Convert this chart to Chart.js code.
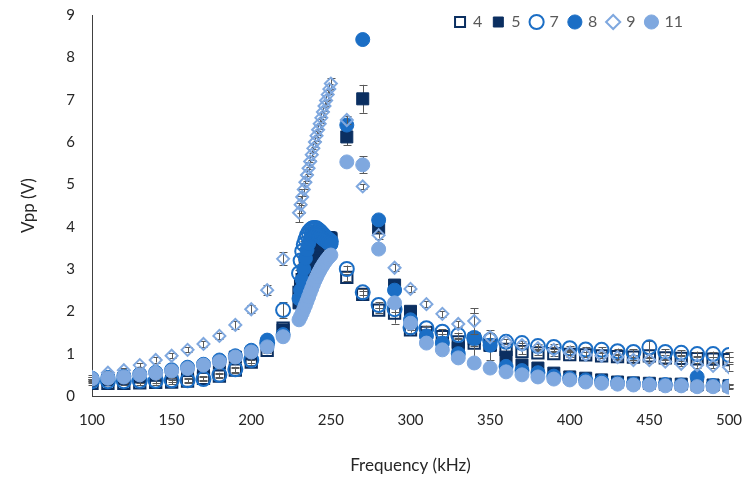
<!DOCTYPE html>
<html>
<head>
<meta charset="utf-8">
<script src="https://cdn.jsdelivr.net/npm/chart.js@4.4.1/dist/chart.umd.min.js"></script>
<style>
  html, body { margin: 0; padding: 0; background: #fff; }
  #wrap { width: 745px; height: 477px; position: relative; }
</style>
</head>
<body>
<div id="wrap"><canvas id="vppChart"></canvas></div>
<script>
// frequency points (kHz): coarse steps, a fine sweep 230-250, then coarse again
var freqs = [100, 110, 120, 130, 140, 150, 160, 170, 180, 190, 200, 210, 220,
  230, 231, 232, 233, 234, 235, 236, 237, 238, 239, 240, 241, 242, 243, 244, 245, 246, 247, 248, 249, 250,
  260, 270, 280, 290, 300, 310, 320, 330, 340, 350, 360, 370, 380, 390, 400, 410, 420, 430, 440, 450, 460, 470, 480, 490, 500];

var labels = ['4', '5', '7', '8', '9', '11'];

var vpp4 = [0.30, 0.30, 0.30, 0.31, 0.32, 0.33, 0.35, 0.42, 0.47, 0.61, 0.80, 1.08, 1.60,
  2.45, 2.60, 2.75, 2.90, 3.05, 3.20, 3.33, 3.45, 3.55, 3.63, 3.69, 3.72, 3.74, 3.75, 3.75, 3.74, 3.73, 3.72, 3.71, 3.70, 3.69,
  2.80, 2.40, 2.03, 1.96, 1.56, 1.50, 1.40, 1.28, 1.25, 1.20, 1.10, 1.05, 1.02, 1.00, 0.98, 0.97, 0.95, 0.93, 0.92, 0.95, 0.90, 0.89, 0.88, 0.87, 0.86];
var vpp5 = [0.36, 0.38, 0.41, 0.45, 0.49, 0.54, 0.60, 0.68, 0.78, 0.92, 1.00, 1.22, 1.56,
  2.20, 2.32, 2.45, 2.58, 2.71, 2.84, 2.97, 3.09, 3.20, 3.30, 3.40, 3.48, 3.55, 3.61, 3.66, 3.70, 3.72, 3.73, 3.74, 3.74, 3.73,
  6.12, 7.02, 3.97, 2.62, 2.00, 1.42, 1.20, 1.13, 1.35, 1.20, 0.92, 0.73, 0.66, 0.54, 0.45, 0.42, 0.38, 0.33, 0.31, 0.30, 0.28, 0.28, 0.26, 0.26, 0.24];
var vpp7 = [0.35, 0.35, 0.35, 0.36, 0.36, 0.37, 0.37, 0.40, 0.50, 0.63, 0.85, 1.25, 2.03,
  2.90, 3.20, 3.42, 3.58, 3.70, 3.80, 3.87, 3.92, 3.95, 3.97, 3.97, 3.96, 3.93, 3.90, 3.86, 3.82, 3.78, 3.74, 3.71, 3.68, 3.65,
  3.00, 2.45, 2.15, 2.05, 1.62, 1.60, 1.52, 1.44, 1.37, 1.32, 1.28, 1.25, 1.18, 1.16, 1.13, 1.10, 1.09, 1.06, 1.04, 1.15, 1.04, 1.02, 0.99, 0.99, 0.97];
var vpp8 = [0.42, 0.44, 0.47, 0.52, 0.56, 0.62, 0.68, 0.75, 0.85, 0.95, 1.08, 1.32, 1.45,
  2.30, 2.50, 2.75, 3.00, 3.25, 3.45, 3.60, 3.70, 3.77, 3.80, 3.82, 3.82, 3.80, 3.77, 3.74, 3.71, 3.68, 3.65, 3.62, 3.60, 3.58,
  6.40, 8.42, 4.16, 2.50, 1.80, 1.42, 1.25, 1.00, 1.37, 1.20, 0.70, 0.60, 0.55, 0.47, 0.42, 0.38, 0.35, 0.31, 0.29, 0.28, 0.27, 0.26, 0.45, 0.25, 0.23];
var vpp9 = [0.45, 0.55, 0.61, 0.73, 0.85, 0.95, 1.09, 1.23, 1.42, 1.68, 2.05, 2.50, 3.24,
  4.33, 4.52, 4.70, 4.88, 5.05, 5.22, 5.38, 5.54, 5.70, 5.85, 6.00, 6.15, 6.29, 6.43, 6.57, 6.71, 6.85, 6.98, 7.12, 7.25, 7.38,
  6.52, 4.95, 3.80, 3.03, 2.53, 2.17, 1.94, 1.70, 1.77, 1.39, 1.28, 1.20, 1.13, 1.09, 1.02, 0.97, 0.95, 0.92, 0.85, 0.85, 0.81, 0.76, 0.73, 0.71, 0.68];
var vpp11 = [0.40, 0.42, 0.45, 0.50, 0.54, 0.59, 0.65, 0.73, 0.81, 0.92, 1.04, 1.16, 1.40,
  1.80, 1.88, 1.96, 2.05, 2.14, 2.24, 2.34, 2.44, 2.54, 2.64, 2.73, 2.81, 2.89, 2.96, 3.03, 3.09, 3.15, 3.20, 3.25, 3.29, 3.33,
  5.53, 5.46, 3.47, 2.20, 1.72, 1.25, 1.09, 0.90, 0.78, 0.66, 0.57, 0.50, 0.45, 0.40, 0.38, 0.33, 0.30, 0.28, 0.26, 0.26, 0.24, 0.24, 0.22, 0.22, 0.21];

// error bar half-heights (V)
var err4 = [0.05, 0.05, 0.05, 0.05, 0.05, 0.05, 0.05, 0.05, 0.05, 0.06, 0.06, 0.06, 0.08,
  0.08, 0.08, 0.08, 0.08, 0.08, 0.08, 0.08, 0.08, 0.08, 0.08, 0.08, 0.08, 0.08, 0.08, 0.08, 0.08, 0.08, 0.08, 0.08, 0.08, 0.08,
  0.08, 0.08, 0.06, 0.25, 0.06, 0.06, 0.06, 0.06, 0.06, 0.06, 0.06, 0.06, 0.06, 0.06, 0.06, 0.06, 0.06, 0.06, 0.06, 0.06, 0.06, 0.06, 0.06, 0.06, 0.06];
var err5 = [0.04, 0.04, 0.04, 0.04, 0.04, 0.04, 0.05, 0.05, 0.05, 0.05, 0.06, 0.08, 0.10,
  0.10, 0.10, 0.10, 0.10, 0.10, 0.10, 0.10, 0.10, 0.10, 0.10, 0.10, 0.10, 0.10, 0.10, 0.10, 0.10, 0.10, 0.10, 0.10, 0.10, 0.10,
  0.20, 0.33, 0.10, 0.08, 0.08, 0.08, 0.08, 0.08, 0.62, 0.35, 0.06, 0.06, 0.05, 0.05, 0.05, 0.05, 0.05, 0.05, 0.05, 0.05, 0.05, 0.05, 0.05, 0.05, 0.05];
var err7 = [0.05, 0.05, 0.05, 0.05, 0.05, 0.05, 0.05, 0.05, 0.05, 0.06, 0.07, 0.08, 0.18,
  0.08, 0.08, 0.08, 0.08, 0.08, 0.08, 0.08, 0.08, 0.08, 0.08, 0.08, 0.08, 0.08, 0.08, 0.08, 0.08, 0.08, 0.08, 0.08, 0.08, 0.08,
  0.08, 0.07, 0.07, 0.07, 0.06, 0.06, 0.06, 0.06, 0.06, 0.06, 0.06, 0.06, 0.06, 0.06, 0.06, 0.06, 0.06, 0.06, 0.06, 0.15, 0.06, 0.06, 0.06, 0.06, 0.06];
var err8 = [0.04, 0.04, 0.04, 0.04, 0.04, 0.04, 0.04, 0.04, 0.05, 0.05, 0.05, 0.06, 0.06,
  0.06, 0.06, 0.06, 0.06, 0.06, 0.06, 0.06, 0.06, 0.06, 0.06, 0.06, 0.06, 0.06, 0.06, 0.06, 0.06, 0.06, 0.06, 0.06, 0.06, 0.06,
  0.12, 0.08, 0.08, 0.06, 0.06, 0.06, 0.06, 0.06, 0.60, 0.06, 0.05, 0.05, 0.05, 0.05, 0.05, 0.05, 0.05, 0.05, 0.05, 0.05, 0.05, 0.05, 0.05, 0.05, 0.05];
var err9 = [0.04, 0.04, 0.05, 0.05, 0.06, 0.06, 0.06, 0.07, 0.08, 0.09, 0.10, 0.12, 0.15,
  0.22, 0.20, 0.18, 0.15, 0.15, 0.14, 0.14, 0.13, 0.13, 0.12, 0.12, 0.12, 0.12, 0.12, 0.12, 0.12, 0.12, 0.12, 0.12, 0.12, 0.12,
  0.10, 0.06, 0.08, 0.08, 0.07, 0.07, 0.07, 0.07, 0.30, 0.10, 0.06, 0.06, 0.06, 0.06, 0.06, 0.06, 0.06, 0.06, 0.06, 0.06, 0.06, 0.06, 0.06, 0.06, 0.08];
var err11 = [0.04, 0.04, 0.04, 0.04, 0.04, 0.04, 0.04, 0.04, 0.04, 0.05, 0.05, 0.05, 0.06,
  0.05, 0.05, 0.05, 0.05, 0.05, 0.05, 0.05, 0.05, 0.05, 0.05, 0.05, 0.05, 0.05, 0.05, 0.05, 0.05, 0.05, 0.05, 0.05, 0.05, 0.05,
  0.06, 0.20, 0.06, 0.06, 0.05, 0.05, 0.05, 0.05, 0.05, 0.05, 0.04, 0.04, 0.04, 0.04, 0.04, 0.04, 0.04, 0.04, 0.04, 0.04, 0.04, 0.04, 0.04, 0.04, 0.04];

function pts(vals) {
  return freqs.map(function (f, i) { return { x: f, y: vals[i] }; });
}

var navy = '#0b2f61';
var mid = '#1b6ec5';
var light = '#7fa8df';

function series(i, vals, errs, style, color, open, radius, order) {
  return {
    label: labels[i],
    data: pts(vals),
    errors: errs,
    pointStyle: style,
    pointRadius: radius,
    pointHoverRadius: radius,
    pointBorderWidth: open ? 2 : 1,
    borderColor: color,
    backgroundColor: open ? 'rgba(255,255,255,0)' : color,
    showLine: false,
    order: order
  };
}

// vertical error bars, drawn just before each series' own markers
var errorBars = {
  id: 'errorBars',
  beforeDatasetDraw: function (chart, args) {
    var ds = chart.data.datasets[args.index];
    if (!ds.errors) return;
    var y = chart.scales.y;
    var ctx = chart.ctx;
    ctx.save();
    ctx.strokeStyle = '#595959';
    ctx.lineWidth = 1;
    args.meta.data.forEach(function (pt, i) {
      var v = ds.data[i].y, e = ds.errors[i];
      var top = y.getPixelForValue(v + e), bot = y.getPixelForValue(v - e);
      var x = Math.round(pt.x) + 0.5;
      ctx.beginPath();
      ctx.moveTo(x, top); ctx.lineTo(x, bot);
      ctx.moveTo(x - 4, Math.round(top) + 0.5); ctx.lineTo(x + 4, Math.round(top) + 0.5);
      ctx.moveTo(x - 4, Math.round(bot) + 0.5); ctx.lineTo(x + 4, Math.round(bot) + 0.5);
      ctx.stroke();
    });
    ctx.restore();
  }
};

// legend takes no layout room and sits inside the plot, top right
var legendSpot = {
  id: 'legendSpot',
  beforeLayout: function (chart) {
    var lg = chart.legend;
    if (lg && !lg._flat) {
      var fit = lg.fit;
      lg.fit = function () { fit.call(this); this.height = 0; };
      lg._flat = true;
    }
  },
  afterLayout: function (chart) {
    var lg = chart.legend;
    var pad = lg.options.labels.padding;
    var w = lg.right - lg.left;
    lg.right = 683 + pad;
    lg.left = lg.right - w;
    lg.top = 14 - pad;
    lg.bottom = lg.top + 50;
    lg.height = 50;
  }
};

new Chart(document.getElementById('vppChart'), {
  type: 'scatter',
  data: {
    datasets: [
      series(0, vpp4, err4, 'rect', navy, true, 8, 6),
      series(1, vpp5, err5, 'rect', navy, false, 8.5, 5),
      series(2, vpp7, err7, 'circle', mid, true, 7, 4),
      series(3, vpp8, err8, 'circle', mid, false, 7, 3),
      series(4, vpp9, err9, 'rectRot', light, true, 6, 2),
      series(5, vpp11, err11, 'circle', light, false, 7, 1)
    ]
  },
  options: {
    responsive: true,
    maintainAspectRatio: false,
    animation: false,
    layout: { padding: { top: 15, right: 16, bottom: 0, left: 0 } },
    plugins: {
      legend: {
        position: 'top',
        align: 'end',
        labels: {
          usePointStyle: true,
          boxWidth: 10,
          boxHeight: 10,
          padding: 11,
          color: '#595959',
          font: { family: 'Lato', size: 16 },
          sort: function (a, b) { return a.datasetIndex - b.datasetIndex; }
        }
      },
      tooltip: { enabled: false }
    },
    scales: {
      x: {
        type: 'linear',
        min: 100,
        max: 500,
        afterFit: function (s) { s.height = 81; },
        grid: { display: false, drawTicks: true, tickLength: 13 },
        border: { display: true, color: '#404040', width: 1 },
        ticks: { stepSize: 50, padding: 2, color: '#262626', font: { family: 'Lato', size: 15 } },
        title: { display: true, text: 'Frequency (kHz)', color: '#262626', padding: { top: 0, bottom: 1 }, font: { family: 'Lato', size: 17 } }
      },
      y: {
        min: 0,
        max: 9,
        afterFit: function (s) { s.width = 92; },
        grid: { display: false, drawTicks: true, tickLength: 15 },
        border: { display: true, color: '#404040', width: 1 },
        ticks: { stepSize: 1, padding: 2, color: '#262626', font: { family: 'Lato', size: 15 } },
        title: { display: true, text: 'Vpp (V)', color: '#262626', padding: { top: 18, bottom: 0 }, font: { family: 'Lato', size: 17 } }
      }
    }
  },
  plugins: [errorBars, legendSpot]
});
</script>
</body>
</html>
